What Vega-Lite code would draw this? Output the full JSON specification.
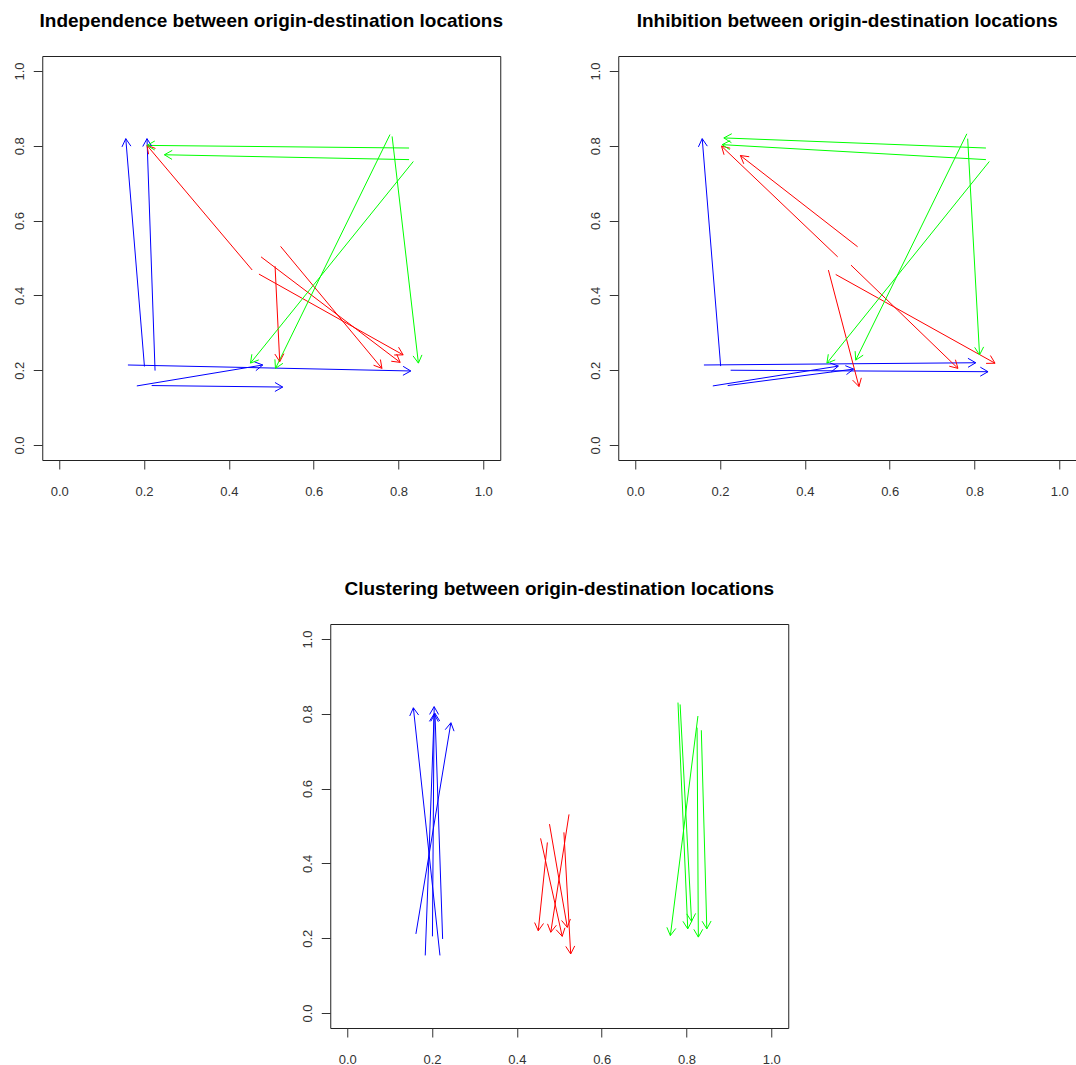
{
"$schema":"https://vega.github.io/schema/vega-lite/v6.json",
"background":"white",
"padding":{"left":12,"top":11,"right":0,"bottom":0},
"datasets":{
"independence":[
{"g":"blue","x0":0.201,"y0":0.210,"x1":0.157,"y1":0.819,"ax":0.169,"ay":0.799,"bx":0.148,"by":0.797},
{"g":"blue","x0":0.226,"y0":0.199,"x1":0.207,"y1":0.819,"ax":0.218,"ay":0.799,"bx":0.197,"by":0.798},
{"g":"blue","x0":0.162,"y0":0.214,"x1":0.829,"y1":0.198,"ax":0.8105,"ay":0.1864,"bx":0.8109,"by":0.2104},
{"g":"blue","x0":0.183,"y0":0.158,"x1":0.480,"y1":0.214,"ax":0.4637,"ay":0.1988,"bx":0.4602,"by":0.2224},
{"g":"blue","x0":0.218,"y0":0.159,"x1":0.527,"y1":0.155,"ax":0.5086,"ay":0.1432,"bx":0.5088,"by":0.1672},
{"g":"red","x0":0.455,"y0":0.468,"x1":0.207,"y1":0.801,"ax":0.2269,"ay":0.7929,"bx":0.2107,"by":0.7774},
{"g":"red","x0":0.509,"y0":0.478,"x1":0.520,"y1":0.223,"ax":0.5085,"ay":0.2432,"bx":0.5297,"by":0.2443},
{"g":"red","x0":0.476,"y0":0.503,"x1":0.804,"y1":0.221,"ax":0.783,"ay":0.224,"bx":0.7958,"by":0.2431},
{"g":"red","x0":0.471,"y0":0.457,"x1":0.811,"y1":0.241,"ax":0.7899,"ay":0.2407,"bx":0.8002,"by":0.2616},
{"g":"red","x0":0.522,"y0":0.531,"x1":0.761,"y1":0.205,"ax":0.7412,"ay":0.2133,"bx":0.7574,"by":0.2286},
{"g":"green","x0":0.825,"y0":0.794,"x1":0.207,"y1":0.801,"ax":0.2254,"ay":0.8128,"bx":0.2252,"by":0.7888},
{"g":"green","x0":0.825,"y0":0.763,"x1":0.248,"y1":0.776,"ax":0.2665,"ay":0.7876,"bx":0.2661,"by":0.7636},
{"g":"green","x0":0.785,"y0":0.825,"x1":0.847,"y1":0.219,"ax":0.8344,"ay":0.2383,"bx":0.8554,"by":0.241},
{"g":"green","x0":0.780,"y0":0.830,"x1":0.510,"y1":0.205,"ax":0.5086,"ay":0.229,"bx":0.5275,"by":0.2184},
{"g":"green","x0":0.835,"y0":0.758,"x1":0.451,"y1":0.219,"ax":0.4543,"ay":0.2427,"bx":0.4707,"by":0.2276}
],
"inhibition":[
{"g":"blue","x0":0.2015,"y0":0.211,"x1":0.158,"y1":0.819,"ax":0.170,"ay":0.799,"bx":0.149,"by":0.797},
{"g":"blue","x0":0.162,"y0":0.214,"x1":0.803,"y1":0.220,"ax":0.7848,"ay":0.2078,"bx":0.7846,"by":0.2318},
{"g":"blue","x0":0.225,"y0":0.200,"x1":0.832,"y1":0.196,"ax":0.8136,"ay":0.1841,"bx":0.8138,"by":0.2081},
{"g":"blue","x0":0.183,"y0":0.158,"x1":0.479,"y1":0.211,"ax":0.4626,"ay":0.1959,"bx":0.4593,"by":0.2196},
{"g":"blue","x0":0.218,"y0":0.159,"x1":0.515,"y1":0.203,"ax":0.4982,"ay":0.1884,"bx":0.4955,"by":0.2122},
{"g":"red","x0":0.4775,"y0":0.503,"x1":0.2035,"y1":0.799,"ax":0.224,"ay":0.7934,"bx":0.2095,"by":0.776},
{"g":"red","x0":0.5245,"y0":0.530,"x1":0.248,"y1":0.774,"ax":0.2689,"ay":0.7707,"bx":0.256,"by":0.7518},
{"g":"red","x0":0.4556,"y0":0.4676,"x1":0.5276,"y1":0.1564,"ax":0.5127,"ay":0.1735,"bx":0.5332,"by":0.1796},
{"g":"red","x0":0.5088,"y0":0.481,"x1":0.761,"y1":0.205,"ax":0.7405,"ay":0.2108,"bx":0.7551,"by":0.2281},
{"g":"red","x0":0.4728,"y0":0.456,"x1":0.8485,"y1":0.2187,"ax":0.8274,"ay":0.2183,"bx":0.8376,"by":0.2393},
{"g":"green","x0":0.827,"y0":0.794,"x1":0.209,"y1":0.821,"ax":0.2277,"ay":0.8322,"bx":0.2269,"by":0.8082},
{"g":"green","x0":0.827,"y0":0.763,"x1":0.205,"y1":0.803,"ax":0.2239,"ay":0.8138,"bx":0.2227,"by":0.7898},
{"g":"green","x0":0.782,"y0":0.832,"x1":0.520,"y1":0.227,"ax":0.5186,"ay":0.251,"bx":0.5376,"by":0.2403},
{"g":"green","x0":0.784,"y0":0.819,"x1":0.812,"y1":0.241,"ax":0.8005,"ay":0.2611,"bx":0.8216,"by":0.2624},
{"g":"green","x0":0.835,"y0":0.758,"x1":0.452,"y1":0.219,"ax":0.4553,"ay":0.2427,"bx":0.4717,"by":0.2276}
],
"clustering":[
{"g":"blue","x0":0.162,"y0":0.2115,"x1":0.2445,"y1":0.776,"ax":0.2519,"ay":0.7535,"bx":0.2311,"by":0.7574},
{"g":"blue","x0":0.2187,"y0":0.154,"x1":0.156,"y1":0.816,"ax":0.1684,"ay":0.7966,"bx":0.1474,"by":0.7941},
{"g":"blue","x0":0.184,"y0":0.154,"x1":0.205,"y1":0.800,"ax":0.2149,"ay":0.7788,"bx":0.1938,"by":0.7797},
{"g":"blue","x0":0.201,"y0":0.205,"x1":0.205,"y1":0.819,"ax":0.2154,"ay":0.7981,"bx":0.1943,"by":0.7983},
{"g":"blue","x0":0.225,"y0":0.198,"x1":0.207,"y1":0.801,"ax":0.2182,"ay":0.7806,"bx":0.1971,"by":0.7798},
{"g":"red","x0":0.456,"y0":0.467,"x1":0.507,"y1":0.205,"ax":0.4927,"ay":0.2227,"bx":0.5134,"by":0.2279},
{"g":"red","x0":0.472,"y0":0.456,"x1":0.4505,"y1":0.220,"ax":0.4419,"ay":0.2419,"bx":0.4629,"by":0.2394},
{"g":"red","x0":0.477,"y0":0.505,"x1":0.519,"y1":0.229,"ax":0.5055,"ay":0.2474,"bx":0.5263,"by":0.2515},
{"g":"red","x0":0.523,"y0":0.531,"x1":0.480,"y1":0.216,"ax":0.4724,"ay":0.2384,"bx":0.4932,"by":0.2347},
{"g":"red","x0":0.511,"y0":0.483,"x1":0.527,"y1":0.158,"ax":0.5154,"ay":0.1781,"bx":0.5365,"by":0.1794},
{"g":"green","x0":0.827,"y0":0.794,"x1":0.762,"y1":0.207,"ax":0.7538,"ay":0.2291,"bx":0.7748,"by":0.2261},
{"g":"green","x0":0.825,"y0":0.763,"x1":0.828,"y1":0.203,"ax":0.8173,"ay":0.2237,"bx":0.8384,"by":0.2239},
{"g":"green","x0":0.835,"y0":0.756,"x1":0.848,"y1":0.225,"ax":0.8369,"ay":0.2454,"bx":0.8581,"by":0.2461},
{"g":"green","x0":0.780,"y0":0.830,"x1":0.803,"y1":0.225,"ax":0.7917,"ay":0.2452,"bx":0.8128,"by":0.2463},
{"g":"green","x0":0.785,"y0":0.825,"x1":0.812,"y1":0.245,"ax":0.8005,"ay":0.2651,"bx":0.8216,"by":0.2664}
]
},
"config":{
"view":{"stroke":"#222","strokeWidth":1},
"title":{"font":"Liberation Sans","fontSize":19,"fontWeight":"bold","color":"#000","frame":"group","anchor":"middle","offset":25},
"axis":{"grid":false,"domain":false,"tickSize":9,"tickColor":"#333","labelColor":"#333","labelFont":"Liberation Sans","labelFontSize":13,"labelFlush":false,"labelOverlap":false,"format":".1f"},
"axisX":{"labelPadding":16},
"axisY":{"labelAngle":270,"labelAlign":"center","labelBaseline":"bottom","labelPadding":7}
},
"center":true,
"spacing":80,
"vconcat":[
{"spacing":84,"hconcat":[
{"width":458,"height":404,"title":"Independence between origin-destination locations","data":{"name":"independence"},
"encoding":{"color":{"field":"g","type":"nominal","scale":{"domain":["blue","red","green"],"range":["#0000ff","#ff0000","#00ff00"]},"legend":null}},
"layer":[
{"mark":{"type":"rule","strokeWidth":1},"encoding":{"x":{"field":"x0","type":"quantitative","scale":{"domain":[-0.04,1.04],"nice":false,"zero":false},"axis":{"values":[0,0.2,0.4,0.6,0.8,1],"title":null}},"y":{"field":"y0","type":"quantitative","scale":{"domain":[-0.04,1.04],"nice":false,"zero":false},"axis":{"values":[0,0.2,0.4,0.6,0.8,1],"title":null}},"x2":{"field":"x1"},"y2":{"field":"y1"}}},
{"mark":{"type":"rule","strokeWidth":1},"encoding":{"x":{"field":"x1","type":"quantitative","axis":{"values":[0,0.2,0.4,0.6,0.8,1],"title":null}},"y":{"field":"y1","type":"quantitative","axis":{"values":[0,0.2,0.4,0.6,0.8,1],"title":null}},"x2":{"field":"ax"},"y2":{"field":"ay"}}},
{"mark":{"type":"rule","strokeWidth":1},"encoding":{"x":{"field":"x1","type":"quantitative","axis":{"values":[0,0.2,0.4,0.6,0.8,1],"title":null}},"y":{"field":"y1","type":"quantitative","axis":{"values":[0,0.2,0.4,0.6,0.8,1],"title":null}},"x2":{"field":"bx"},"y2":{"field":"by"}}}
]},
{"width":458,"height":404,"title":"Inhibition between origin-destination locations","data":{"name":"inhibition"},
"encoding":{"color":{"field":"g","type":"nominal","scale":{"domain":["blue","red","green"],"range":["#0000ff","#ff0000","#00ff00"]},"legend":null}},
"layer":[
{"mark":{"type":"rule","strokeWidth":1},"encoding":{"x":{"field":"x0","type":"quantitative","scale":{"domain":[-0.04,1.04],"nice":false,"zero":false},"axis":{"values":[0,0.2,0.4,0.6,0.8,1],"title":null}},"y":{"field":"y0","type":"quantitative","scale":{"domain":[-0.04,1.04],"nice":false,"zero":false},"axis":{"values":[0,0.2,0.4,0.6,0.8,1],"title":null}},"x2":{"field":"x1"},"y2":{"field":"y1"}}},
{"mark":{"type":"rule","strokeWidth":1},"encoding":{"x":{"field":"x1","type":"quantitative","axis":{"values":[0,0.2,0.4,0.6,0.8,1],"title":null}},"y":{"field":"y1","type":"quantitative","axis":{"values":[0,0.2,0.4,0.6,0.8,1],"title":null}},"x2":{"field":"ax"},"y2":{"field":"ay"}}},
{"mark":{"type":"rule","strokeWidth":1},"encoding":{"x":{"field":"x1","type":"quantitative","axis":{"values":[0,0.2,0.4,0.6,0.8,1],"title":null}},"y":{"field":"y1","type":"quantitative","axis":{"values":[0,0.2,0.4,0.6,0.8,1],"title":null}},"x2":{"field":"bx"},"y2":{"field":"by"}}}
]}
]},
{"width":458,"height":404,"title":"Clustering between origin-destination locations","data":{"name":"clustering"},
"encoding":{"color":{"field":"g","type":"nominal","scale":{"domain":["blue","red","green"],"range":["#0000ff","#ff0000","#00ff00"]},"legend":null}},
"layer":[
{"mark":{"type":"rule","strokeWidth":1},"encoding":{"x":{"field":"x0","type":"quantitative","scale":{"domain":[-0.04,1.04],"nice":false,"zero":false},"axis":{"values":[0,0.2,0.4,0.6,0.8,1],"title":null}},"y":{"field":"y0","type":"quantitative","scale":{"domain":[-0.04,1.04],"nice":false,"zero":false},"axis":{"values":[0,0.2,0.4,0.6,0.8,1],"title":null}},"x2":{"field":"x1"},"y2":{"field":"y1"}}},
{"mark":{"type":"rule","strokeWidth":1},"encoding":{"x":{"field":"x1","type":"quantitative","axis":{"values":[0,0.2,0.4,0.6,0.8,1],"title":null}},"y":{"field":"y1","type":"quantitative","axis":{"values":[0,0.2,0.4,0.6,0.8,1],"title":null}},"x2":{"field":"ax"},"y2":{"field":"ay"}}},
{"mark":{"type":"rule","strokeWidth":1},"encoding":{"x":{"field":"x1","type":"quantitative","axis":{"values":[0,0.2,0.4,0.6,0.8,1],"title":null}},"y":{"field":"y1","type":"quantitative","axis":{"values":[0,0.2,0.4,0.6,0.8,1],"title":null}},"x2":{"field":"bx"},"y2":{"field":"by"}}}
]}
]
}
